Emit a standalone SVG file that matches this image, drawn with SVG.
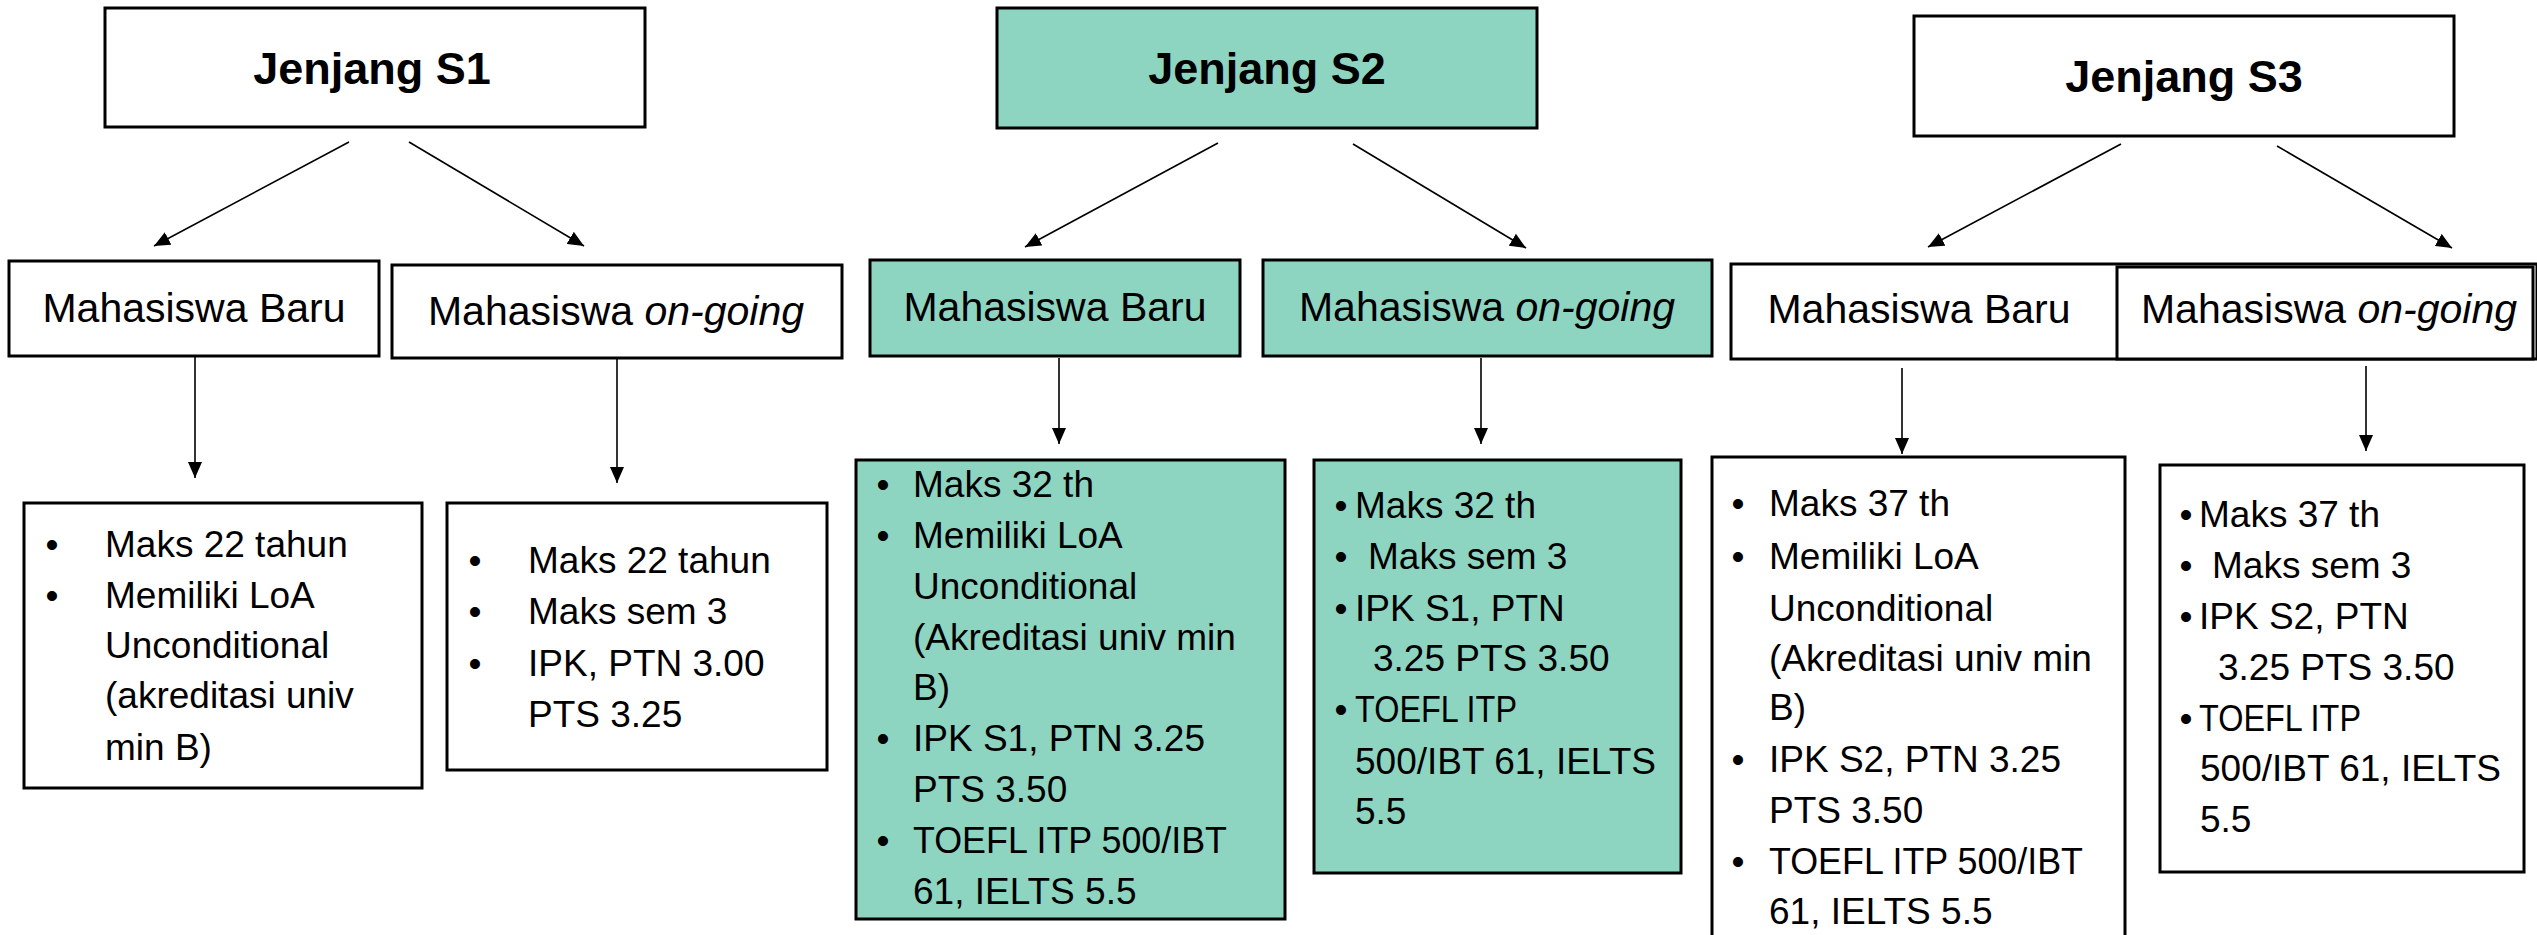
<svg xmlns="http://www.w3.org/2000/svg" width="2537" height="935" viewBox="0 0 2537 935">
<style>
.box{fill:#ffffff;stroke:#000;stroke-width:3}
.teal{fill:#8DD5C1;stroke:#000;stroke-width:3}
.title{font-family:"Liberation Sans",Arial,sans-serif;font-weight:bold;font-size:45px;fill:#000;text-anchor:middle}
.lvl{font-family:"Liberation Sans",Arial,sans-serif;font-size:41px;fill:#000;text-anchor:middle}
.t{font-family:"Liberation Sans",Arial,sans-serif;font-size:37px;fill:#000}
.b{font-family:"Liberation Sans",Arial,sans-serif;font-size:37px;fill:#000;text-anchor:middle}
.c{stroke:#000;stroke-width:1.6;fill:none}
</style>
<defs>
<marker id="ah" markerUnits="userSpaceOnUse" markerWidth="16" markerHeight="14" refX="16" refY="7" orient="auto">
<path d="M0,0 L16,7 L0,14 z" fill="#000"/>
</marker>
</defs>
<rect width="2537" height="935" fill="#fff"/>

<g id="connectors">
<line class="c" x1="349" y1="142" x2="154" y2="246" marker-end="url(#ah)"/>
<line class="c" x1="409" y1="142" x2="584" y2="246" marker-end="url(#ah)"/>
<line class="c" x1="195" y1="356" x2="195" y2="478" marker-end="url(#ah)"/>
<line class="c" x1="617" y1="359" x2="617" y2="483" marker-end="url(#ah)"/>
<line class="c" x1="1218" y1="143" x2="1025" y2="247" marker-end="url(#ah)"/>
<line class="c" x1="1353" y1="144" x2="1526" y2="248" marker-end="url(#ah)"/>
<line class="c" x1="1059" y1="358" x2="1059" y2="444" marker-end="url(#ah)"/>
<line class="c" x1="1481" y1="358" x2="1481" y2="444" marker-end="url(#ah)"/>
<line class="c" x1="2121" y1="144" x2="1928" y2="247" marker-end="url(#ah)"/>
<line class="c" x1="2277" y1="146" x2="2452" y2="248" marker-end="url(#ah)"/>
<line class="c" x1="1902" y1="368" x2="1902" y2="454" marker-end="url(#ah)"/>
<line class="c" x1="2366" y1="366" x2="2366" y2="451" marker-end="url(#ah)"/>
</g>

<g id="s1">
<rect class="box" x="105" y="8" width="540" height="119"/>
<text class="title" x="372" y="84">Jenjang S1</text>
</g>
<g id="s1-baru">
<rect class="box" x="9" y="261" width="370" height="95"/>
<text class="lvl" x="194" y="322">Mahasiswa Baru</text>
</g>
<g id="s1-ongoing">
<rect class="box" x="392" y="265" width="450" height="93"/>
<text class="lvl" x="616" y="325">Mahasiswa <tspan font-style="italic">on-going</tspan></text>
</g>
<g id="s1-baru-detail">
<rect class="box" x="24" y="503" width="398" height="285"/>
<text class="b" x="52" y="557">•</text><text class="t" x="105" y="557">Maks 22 tahun</text>
<text class="b" x="52" y="608">•</text><text class="t" x="105" y="608">Memiliki LoA</text>
<text class="t" x="105" y="658">Unconditional</text>
<text class="t" x="105" y="708">(akreditasi univ</text>
<text class="t" x="105" y="760">min B)</text>
</g>
<g id="s1-ongoing-detail">
<rect class="box" x="447" y="503" width="380" height="267"/>
<text class="b" x="475" y="573">•</text><text class="t" x="528" y="573">Maks 22 tahun</text>
<text class="b" x="475" y="624">•</text><text class="t" x="528" y="624">Maks sem 3</text>
<text class="b" x="475" y="676">•</text><text class="t" x="528" y="676">IPK, PTN 3.00</text>
<text class="t" x="528" y="727">PTS 3.25</text>
</g>

<g id="s2">
<rect class="teal" x="997" y="8" width="540" height="120"/>
<text class="title" x="1267" y="84">Jenjang S2</text>
</g>
<g id="s2-baru">
<rect class="teal" x="870" y="260" width="370" height="96"/>
<text class="lvl" x="1055" y="321">Mahasiswa Baru</text>
</g>
<g id="s2-ongoing">
<rect class="teal" x="1263" y="260" width="449" height="96"/>
<text class="lvl" x="1487" y="321">Mahasiswa <tspan font-style="italic">on-going</tspan></text>
</g>
<g id="s2-baru-detail">
<rect class="teal" x="856" y="460" width="429" height="459"/>
<text class="b" x="883" y="497">•</text><text class="t" x="913" y="497">Maks 32 th</text>
<text class="b" x="883" y="548">•</text><text class="t" x="913" y="548">Memiliki LoA</text>
<text class="t" x="913" y="599">Unconditional</text>
<text class="t" x="913" y="650">(Akreditasi univ min</text>
<text class="t" x="913" y="700">B)</text>
<text class="b" x="883" y="751">•</text><text class="t" x="913" y="751">IPK S1, PTN 3.25</text>
<text class="t" x="913" y="802">PTS 3.50</text>
<text class="b" x="883" y="853">•</text><text class="t" x="913" y="853" textLength="314" lengthAdjust="spacingAndGlyphs">TOEFL ITP 500/IBT</text>
<text class="t" x="913" y="904">61, IELTS 5.5</text>
</g>
<g id="s2-ongoing-detail">
<rect class="teal" x="1314" y="460" width="367" height="413"/>
<text class="b" x="1341" y="518">•</text><text class="t" x="1355" y="518">Maks 32 th</text>
<text class="b" x="1341" y="569">•</text><text class="t" x="1368" y="569">Maks sem 3</text>
<text class="b" x="1341" y="621">•</text><text class="t" x="1355" y="621">IPK S1, PTN</text>
<text class="t" x="1373" y="671">3.25 PTS 3.50</text>
<text class="b" x="1341" y="722">•</text><text class="t" x="1355" y="722" textLength="162" lengthAdjust="spacingAndGlyphs">TOEFL ITP</text>
<text class="t" x="1355" y="774">500/IBT 61, IELTS</text>
<text class="t" x="1355" y="824">5.5</text>
</g>

<g id="s3">
<rect class="box" x="1914" y="16" width="540" height="120"/>
<text class="title" x="2184" y="92">Jenjang S3</text>
</g>
<g id="s3-baru">
<rect class="box" x="1731" y="264" width="806" height="95"/>
<text class="lvl" x="1919" y="323">Mahasiswa Baru</text>
</g>
<g id="s3-ongoing">
<rect class="box" x="2117" y="267" width="416" height="92"/>
<text class="lvl" x="2329" y="323">Mahasiswa <tspan font-style="italic">on-going</tspan></text>
</g>
<g id="s3-baru-detail">
<rect class="box" x="1712" y="457" width="413" height="490"/>
<text class="b" x="1738" y="516">•</text><text class="t" x="1769" y="516">Maks 37 th</text>
<text class="b" x="1738" y="569">•</text><text class="t" x="1769" y="569">Memiliki LoA</text>
<text class="t" x="1769" y="621">Unconditional</text>
<text class="t" x="1769" y="671">(Akreditasi univ min</text>
<text class="t" x="1769" y="720">B)</text>
<text class="b" x="1738" y="772">•</text><text class="t" x="1769" y="772">IPK S2, PTN 3.25</text>
<text class="t" x="1769" y="823">PTS 3.50</text>
<text class="b" x="1738" y="874">•</text><text class="t" x="1769" y="874" textLength="314" lengthAdjust="spacingAndGlyphs">TOEFL ITP 500/IBT</text>
<text class="t" x="1769" y="924">61, IELTS 5.5</text>
</g>
<g id="s3-ongoing-detail">
<rect class="box" x="2160" y="465" width="364" height="407"/>
<text class="b" x="2186" y="527">•</text><text class="t" x="2199" y="527">Maks 37 th</text>
<text class="b" x="2186" y="578">•</text><text class="t" x="2212" y="578">Maks sem 3</text>
<text class="b" x="2186" y="629">•</text><text class="t" x="2199" y="629">IPK S2, PTN</text>
<text class="t" x="2218" y="680">3.25 PTS 3.50</text>
<text class="b" x="2186" y="731">•</text><text class="t" x="2199" y="731" textLength="162" lengthAdjust="spacingAndGlyphs">TOEFL ITP</text>
<text class="t" x="2200" y="781">500/IBT 61, IELTS</text>
<text class="t" x="2200" y="832">5.5</text>
</g>
</svg>
